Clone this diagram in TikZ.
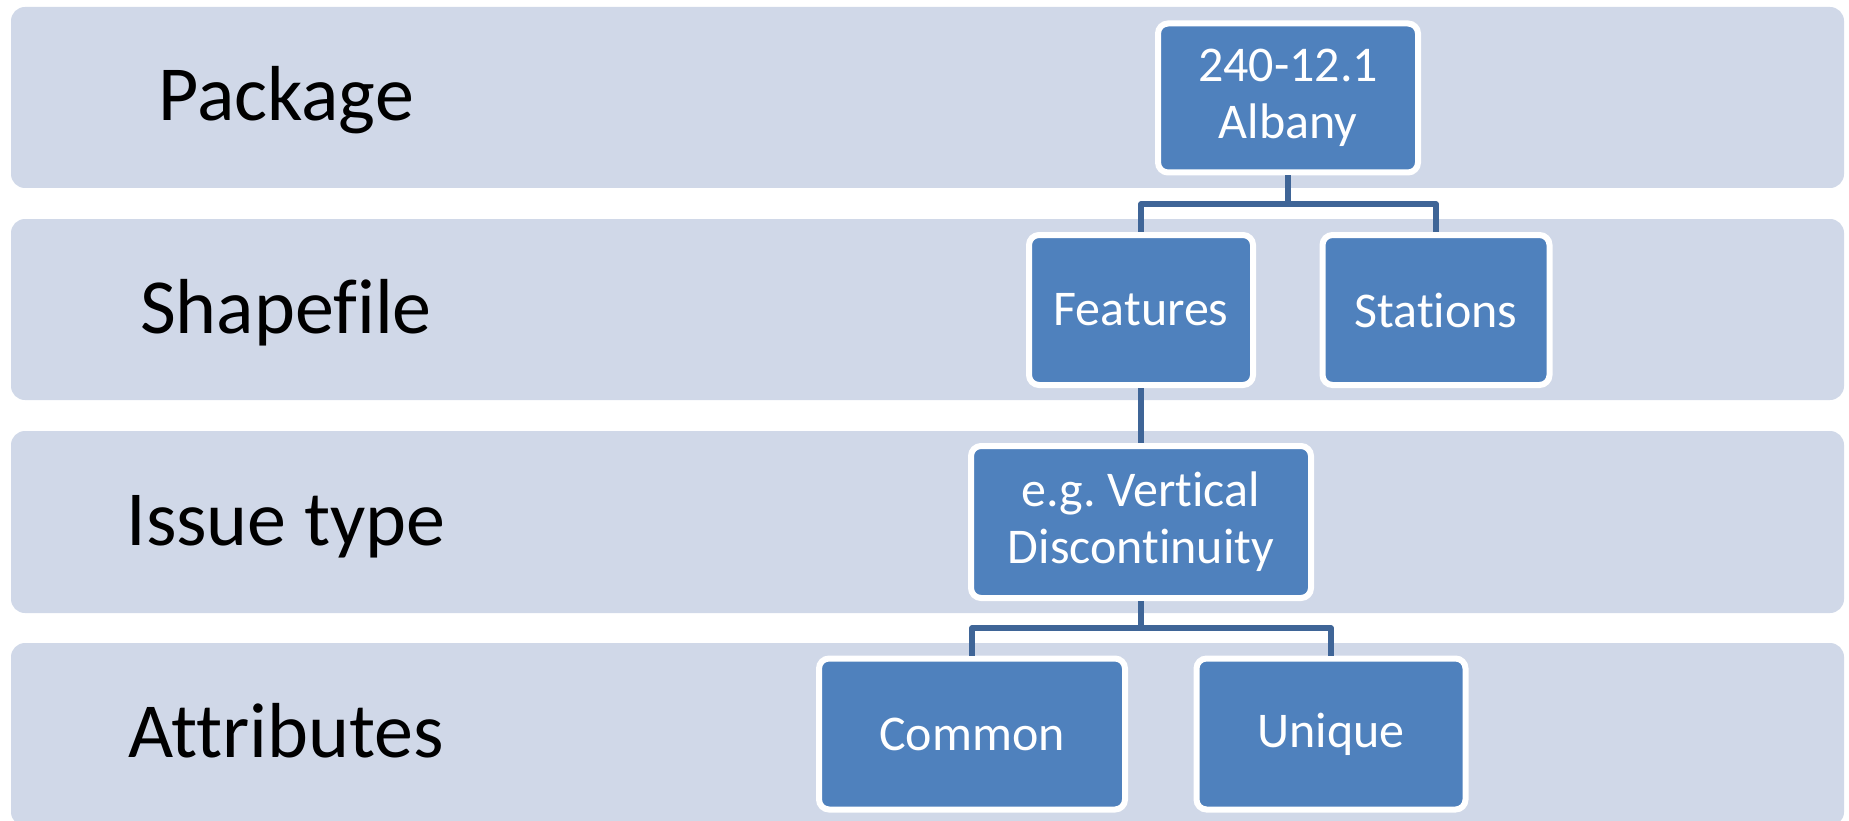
\documentclass[tikz,border=0pt]{standalone}
\usepackage{fontspec}
\setmainfont{Carlito}[Ligatures=NoCommon]
\definecolor{bandfill}{HTML}{D0D8E8}
\definecolor{boxfill}{HTML}{4F81BD}
\definecolor{linkcol}{HTML}{3F6597}
\begin{document}
\begin{tikzpicture}[x=1pt,y=-1pt,
    band/.style={fill=bandfill, rounded corners=14pt},
    level/.style={anchor=base, font=\fontsize{78}{90}\selectfont},
    item/.style={draw=white, line width=6pt, fill=boxfill, rounded corners=10pt,
        text=white, align=center, inner sep=0pt, font=\fontsize{50}{57}\selectfont},
    link/.style={draw=linkcol, line width=5.5pt, line join=round}]
    \useasboundingbox (0,0) rectangle (1849,821);

    % bands
    \fill[band] (11,7) rectangle (1844,188);
    \fill[band] (11,219) rectangle (1844,400);
    \fill[band] (11,431) rectangle (1844,613);
    \fill[band] (11,643) rectangle (1844,826);

    \node[level] (package) at (286,121) {Package};
    \node[level] (shapefile) at (286,333) {Shapefile};
    \node[level] (issue) at (286,545) {Issue type};
    \node[level] (attributes) at (286,757) {Attributes};

    % tree
    \node[item, minimum width=260pt, minimum height=149pt] (albany) at (1288,98) {240-12.1\\Albany};
    \node[item, minimum width=224pt, minimum height=150pt] (features) at (1141,310) {Features};
    \node[item, minimum width=227pt, minimum height=150pt] (stations) at (1436,310) {Stations};
    \node[item, minimum width=340pt, minimum height=152pt] (vertical) at (1141,522) {e.g.\ Vertical\\Discontinuity};
    \node[item, minimum width=306pt, minimum height=151pt] (common) at (972,734) {Common};
    \node[item, minimum width=269pt, minimum height=151pt] (unique) at (1331,734) {Unique};

    \draw[link] (albany.south) -- ++(0,28.5) coordinate (fork1);
    \draw[link] (fork1) -| (features.north);
    \draw[link] (fork1) -| (stations.north);
    \draw[link] (features.south) -- (vertical.north);
    \draw[link] (vertical.south) -- ++(0,27) coordinate (fork2);
    \draw[link] (fork2) -| (common.north);
    \draw[link] (fork2) -| (unique.north);
\end{tikzpicture}
\end{document}
